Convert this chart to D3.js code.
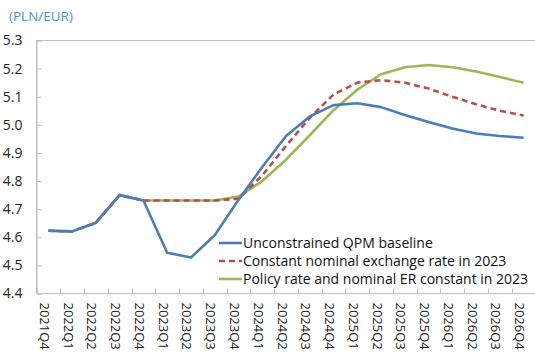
<!DOCTYPE html>
<html>
<head>
<meta charset="utf-8">
<script src="https://cdn.jsdelivr.net/npm/d3@7"></script>
<style>
  html, body { margin: 0; padding: 0; background: #fff; }
  svg { display: block; }
</style>
</head>
<body>
<svg id="chart" width="535" height="356"></svg>
<script>
// Quarterly PLN/EUR exchange rate paths under three scenarios
const quarters = ["2021Q4","2022Q1","2022Q2","2022Q3","2022Q4","2023Q1","2023Q2","2023Q3","2023Q4",
  "2024Q1","2024Q2","2024Q3","2024Q4","2025Q1","2025Q2","2025Q3","2025Q4","2026Q1","2026Q2","2026Q3","2026Q4"];

const baseline = [4.623,4.621,4.652,4.750,4.731,4.545,4.528,4.607,4.733,
  4.850,4.960,5.030,5.070,5.077,5.063,5.035,5.010,4.987,4.969,4.960,4.954];
const constantER = [4.623,4.621,4.652,4.750,4.731,4.731,4.731,4.731,4.737,
  4.820,4.925,5.025,5.108,5.150,5.159,5.150,5.129,5.100,5.073,5.050,5.033];
const policyAndER = [4.623,4.621,4.652,4.750,4.731,4.731,4.731,4.731,4.745,
  4.800,4.876,4.963,5.052,5.125,5.180,5.205,5.213,5.205,5.190,5.170,5.150];

const yTicks = [4.4,4.5,4.6,4.7,4.8,4.9,5.0,5.1,5.2,5.3];
const seriesNames = ["Unconstrained QPM baseline","Constant nominal exchange rate in 2023","Policy rate and nominal ER constant in 2023"];

const series = [
  { name: seriesNames[0], values: baseline,   color: "#4a7ebb", dash: null },
  { name: seriesNames[1], values: constantER, color: "#be4b48", dash: "6,4" },
  { name: seriesNames[2], values: policyAndER, color: "#98b954", dash: null }
];

const svg = d3.select("#chart");
const font = "'Open Sans', 'Noto Sans', sans-serif";
const plotL = 36.5, plotR = 535.5, plotT = 40.5, plotB = 293.5;

const x = d3.scaleBand().domain(quarters).range([plotL, plotR]).padding(0);
const y = d3.scaleLinear().domain([4.4, 5.3]).range([plotB, plotT]);

// unit label
svg.append("text").attr("x", 9).attr("y", 21)
  .attr("font-family", font).attr("font-size", 13.5).attr("fill", "#4f8fca")
  .text("(PLN/EUR)");

// plot area frame
svg.append("rect").attr("x", plotL).attr("y", plotT)
  .attr("width", plotR - plotL + 10).attr("height", plotB - plotT)
  .attr("fill", "none").attr("stroke", "#bfbfbf").attr("stroke-width", 1);

// y axis: inward ticks, labels on the left
const yAxis = svg.append("g").attr("transform", `translate(${plotL},0)`)
  .call(d3.axisRight(y).tickValues(yTicks).tickSize(5).tickFormat(d3.format(".1f")));
yAxis.select(".domain").attr("stroke", "#bfbfbf");
yAxis.selectAll(".tick line").attr("stroke", "#bfbfbf");
yAxis.selectAll(".tick text").attr("x", -14).attr("text-anchor", "end")
  .attr("font-family", font).attr("font-size", 14).attr("fill", "#222");

// x axis: tick marks at category boundaries pointing up, rotated labels
const xb = svg.append("g").attr("transform", `translate(0,${plotB})`);
xb.append("line").attr("x1", plotL).attr("x2", plotR).attr("stroke", "#bfbfbf");
xb.selectAll("line.tk").data(d3.range(quarters.length + 1)).join("line")
  .attr("class", "tk")
  .attr("x1", i => Math.round(plotL + i * x.bandwidth()) + 0.5)
  .attr("x2", i => Math.round(plotL + i * x.bandwidth()) + 0.5)
  .attr("y1", 0).attr("y2", -5).attr("stroke", "#bfbfbf");
xb.selectAll("text").data(quarters).join("text")
  .attr("transform", d => `translate(${x(d) + x.bandwidth() / 2 - 8.5},9) rotate(90)`)
  .attr("font-family", font).attr("font-size", 13).attr("fill", "#222")
  .text(d => d);

// scenario lines
const line = d3.line()
  .x((d, i) => x(quarters[i]) + x.bandwidth() / 2)
  .y(d => y(d));

const order = [2, 1, 0];
order.forEach(k => {
  const s = series[k];
  svg.append("path").datum(s.values)
    .attr("d", line)
    .attr("fill", "none")
    .attr("stroke", s.color)
    .attr("stroke-width", 2.6)
    .attr("stroke-linejoin", "round")
    .attr("stroke-dasharray", s.dash);
});

// legend
const lg = svg.append("g").attr("transform", "translate(219,243)");
series.forEach((s, i) => {
  const row = lg.append("g").attr("transform", `translate(0,${i * 18})`);
  row.append("line").attr("x1", 0).attr("x2", 23).attr("y1", 0).attr("y2", 0)
    .attr("stroke", s.color).attr("stroke-width", 2.6).attr("stroke-dasharray", s.dash);
  row.append("text").attr("x", 24).attr("y", 5)
    .attr("font-family", font).attr("font-size", 14).attr("fill", "#111")
    .text(s.name);
});
</script>
</body>
</html>
